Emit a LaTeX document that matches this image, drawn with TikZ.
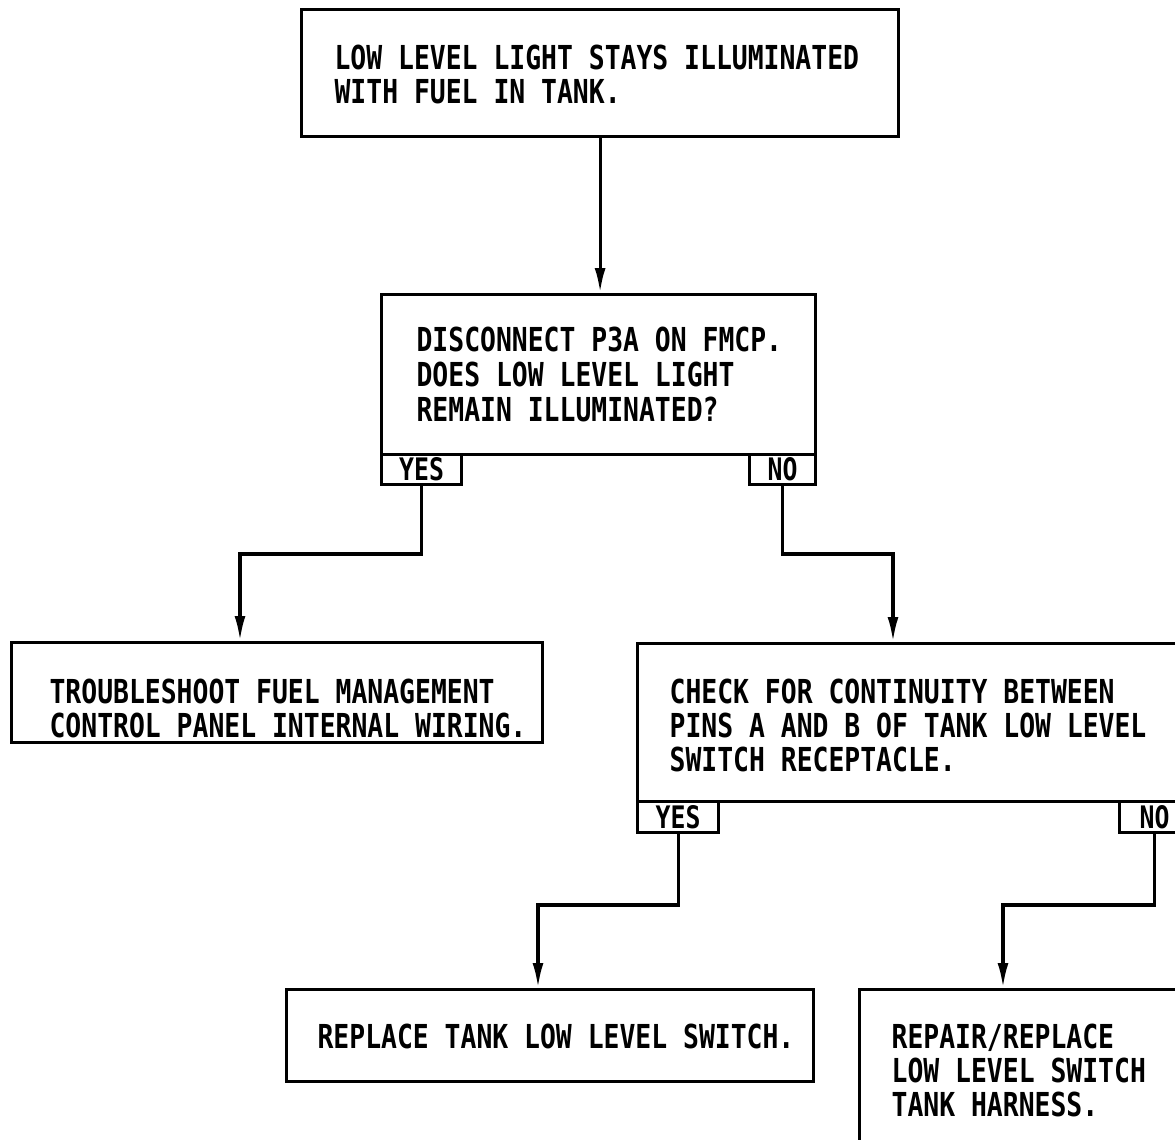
\documentclass[tikz,border=0pt]{standalone}
\usepackage{fontspec}
\newfontfamily\gfont[FakeStretch=0.8]{DejaVu Sans Mono}
\usetikzlibrary{arrows.meta}
\begin{document}
\begin{tikzpicture}[x=1pt,y=-1pt,line width=3.2pt,
  boxn/.style n args={2}{draw,rectangle,anchor=north west,inner sep=0pt,minimum width=#1,minimum height=#2},
  tabn/.style n args={2}{draw,rectangle,anchor=north west,inner sep=0pt,minimum width=#1,minimum height=#2,font=\gfont\bfseries\fontsize{31}{30}\selectfont},
  txt/.style={anchor=north west,inner sep=0pt,align=left,font=\gfont\bfseries\fontsize{33}{#1}\selectfont},
  arr/.style={-{Latex[length=25pt,width=11pt]}}]
\useasboundingbox (0,0) rectangle (1175,1140);
\clip (0,0) rectangle (1175,1140);
% boxes
\node[boxn={597pt}{127pt}] (b1) at (300,8) {};
\node[txt=34pt] (t1) at (333,43) {\rule{0pt}{24pt}LOW LEVEL LIGHT STAYS ILLUMINATED\\WITH FUEL IN TANK.};
\node[boxn={434pt}{160pt}] (b2) at (380,293) {};
\node[txt=35pt] (t2) at (415,325) {\rule{0pt}{24pt}DISCONNECT P3A ON FMCP.\\DOES LOW LEVEL LIGHT\\REMAIN ILLUMINATED?};
\node[tabn={80pt}{30pt}] (y1) at (380,453) {YES};
\node[tabn={66pt}{30pt}] (n1) at (748,453) {NO};
\node[boxn={531pt}{100pt}] (b3) at (10,641) {};
\node[txt=34pt] (t3) at (48,677) {\rule{0pt}{24pt}TROUBLESHOOT FUEL MANAGEMENT\\CONTROL PANEL INTERNAL WIRING.};
\node[boxn={560pt}{158pt}] (b4) at (636,642) {};
\node[txt=34pt] (t4) at (668,677) {\rule{0pt}{24pt}CHECK FOR CONTINUITY BETWEEN\\PINS A AND B OF TANK LOW LEVEL\\SWITCH RECEPTACLE.};
\node[tabn={81pt}{31pt}] (y2) at (636,800) {YES};
\node[tabn={70pt}{31pt}] (n2) at (1118,800) {NO};
\node[boxn={527pt}{92pt}] (b5) at (285,988) {};
\node[txt=34pt] (t5) at (316,1022) {\rule{0pt}{24pt}REPLACE TANK LOW LEVEL SWITCH.};
\node[boxn={340pt}{170pt}] (b6) at (858,988) {};
\node[txt=34pt] (t6) at (890,1022) {\rule{0pt}{24pt}REPAIR/REPLACE\\LOW LEVEL SWITCH\\TANK HARNESS.};
% connectors
\coordinate (c1) at (240,554);
\coordinate (c2) at (893,554);
\coordinate (c3) at (538,905);
\coordinate (c4) at (1003,905);
\draw[arr] (b1.south) -- (b1.south |- b2.north);
\draw[arr] (y1.south) |- (c1) -- (c1 |- b3.north);
\draw[arr] (n1.south) |- (c2) -- (c2 |- b4.north);
\draw[arr] (y2.south) |- (c3) -- (c3 |- b5.north);
\draw[arr] (n2.south) |- (c4) -- (c4 |- b6.north);
\end{tikzpicture}
\end{document}
